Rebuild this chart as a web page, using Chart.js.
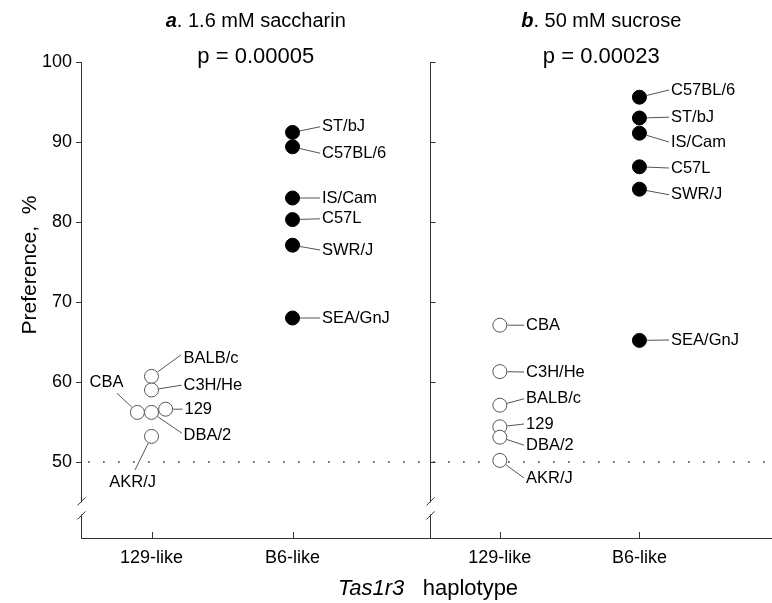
<!DOCTYPE html>
<html>
<head>
<meta charset="utf-8">
<script src="https://cdn.jsdelivr.net/npm/chart.js@4/dist/chart.umd.min.js"></script>
<style>
  html, body { margin: 0; padding: 0; background: #fff; overflow: hidden; }
  #wrap { width: 772px; height: 603px; position: absolute; left: 0; top: 0; }
</style>
</head>
<body>
<div id="wrap"><canvas id="myChart"></canvas></div>
<script>
// categories and ticks
const xCats = ['129-like', 'B6-like', '129-like', 'B6-like'];
const xTickPos = [1, 2, 3.47, 4.46];
const yTicks = [50, 60, 70, 80, 90, 100];
const panelTitles = ['1.6 mM saccharin', '50 mM sucrose'];
const panelLetters = ['a', 'b'];
const pValues = ['p = 0.00005', 'p = 0.00023'];

// a. saccharin, 129-like haplotype
const saccNames129 = ['BALB/c', 'C3H/He', 'CBA', '129', 'DBA/2', 'AKR/J'];
const saccX129 = [1, 1, 0.9, 1.1, 1, 1];
const saccY129 = [60.7, 59.0, 56.2, 56.6, 56.2, 53.2];
// a. saccharin, B6-like haplotype
const saccNamesB6 = ['ST/bJ', 'C57BL/6', 'IS/Cam', 'C57L', 'SWR/J', 'SEA/GnJ'];
const saccXB6 = [2, 2, 2, 2, 2, 2];
const saccYB6 = [91.2, 89.4, 83.0, 80.3, 77.1, 68.0];
// b. sucrose, 129-like haplotype
const sucNames129 = ['CBA', 'C3H/He', 'BALB/c', '129', 'DBA/2', 'AKR/J'];
const sucX129 = [3.47, 3.47, 3.47, 3.47, 3.47, 3.47];
const sucY129 = [67.1, 61.3, 57.1, 54.4, 53.1, 50.2];
// b. sucrose, B6-like haplotype
const sucNamesB6 = ['C57BL/6', 'ST/bJ', 'IS/Cam', 'C57L', 'SWR/J', 'SEA/GnJ'];
const sucXB6 = [4.46, 4.46, 4.46, 4.46, 4.46, 4.46];
const sucYB6 = [95.6, 93.0, 91.1, 86.9, 84.1, 65.2];

// where the strain names sit (data units) and where their leader lines end
const saccLab129 = [[1.227, 63.0], [1.227, 59.6], [0.56, 59.9], [1.234, 56.6], [1.227, 53.3], [0.70, 47.4]];
const saccEnd129 = [[1.21, 63.4], null, [0.755, 58.6], null, [1.215, 53.6], [0.883, 49.0]];
const saccLabB6 = [[2.209, 91.9], [2.209, 88.6], [2.209, 83.0], [2.209, 80.4], [2.209, 76.5], [2.209, 68.0]];
const sucLab129 = [[3.656, 67.1], [3.656, 61.25], [3.656, 57.9], [3.656, 54.75], [3.656, 52.1], [3.656, 48.0]];
const sucLabB6 = [[4.684, 96.5], [4.684, 93.1], [4.684, 90.0], [4.684, 86.75], [4.684, 83.4], [4.684, 65.25]];

const panelDivider = 2.975;
const breakAt = 44.2;

const groups = [
  { names: saccNames129, xs: saccX129, ys: saccY129, lab: saccLab129, end: saccEnd129, open: true },
  { names: saccNamesB6, xs: saccXB6, ys: saccYB6, lab: saccLabB6, end: [], open: false },
  { names: sucNames129, xs: sucX129, ys: sucY129, lab: sucLab129, end: [], open: true },
  { names: sucNamesB6, xs: sucXB6, ys: sucYB6, lab: sucLabB6, end: [], open: false }
];

const FONT = '"Liberation Sans", Arial, Helvetica, sans-serif';

const datasets = groups.map(g => ({
  type: 'scatter',
  data: g.xs.map((x, i) => ({ x: x, y: g.ys[i] })),
  pointRadius: 7,
  pointBorderWidth: 1,
  pointBackgroundColor: g.open ? '#fff' : '#000',
  pointBorderColor: g.open ? '#555' : '#000',
  pointHoverRadius: 7
}));
datasets.push({
  type: 'line',
  data: [{ x: 0.55, y: 50 }, { x: 5.4, y: 50 }],
  borderColor: '#333',
  borderWidth: 1.6,
  borderDash: [1.6, 13.4],
  pointRadius: 0,
  order: 10
});

const extras = {
  id: 'extras',
  afterDatasetsDraw(chart) {
    const ctx = chart.ctx, xs = chart.scales.x, ys = chart.scales.y;
    ctx.save();
    ctx.font = '16.5px ' + FONT;
    ctx.textBaseline = 'middle';
    ctx.textAlign = 'left';
    groups.forEach(g => {
      g.names.forEach((name, i) => {
        const px = xs.getPixelForValue(g.xs[i]), py = ys.getPixelForValue(g.ys[i]);
        const tx = xs.getPixelForValue(g.lab[i][0]), ty = ys.getPixelForValue(g.lab[i][1]);
        let ex, ey;
        if (g.end[i]) {
          ex = xs.getPixelForValue(g.end[i][0]); ey = ys.getPixelForValue(g.end[i][1]);
        } else {
          ex = tx - 2; ey = ty;
        }
        const d = Math.hypot(ex - px, ey - py), r = 7.5;
        ctx.strokeStyle = '#555';
        ctx.lineWidth = 1;
        ctx.beginPath();
        ctx.moveTo(px + (ex - px) * r / d, py + (ey - py) * r / d);
        ctx.lineTo(ex, ey);
        ctx.stroke();
        ctx.fillStyle = '#000';
        ctx.fillText(name, tx, ty);
      });
    });
    ctx.restore();
  },
  afterDraw(chart) {
    const ctx = chart.ctx, xs = chart.scales.x, ys = chart.scales.y;
    const area = chart.chartArea;
    const divX = Math.round(xs.getPixelForValue(panelDivider)) + 0.5;
    const leftX = Math.round(area.left) + 0.5;
    ctx.save();
    // right panel axis
    ctx.strokeStyle = '#333';
    ctx.lineWidth = 1;
    ctx.beginPath();
    ctx.moveTo(divX, ys.getPixelForValue(100));
    ctx.lineTo(divX, area.bottom);
    yTicks.forEach(v => {
      const y = Math.round(ys.getPixelForValue(v)) + 0.5;
      ctx.moveTo(divX, y);
      ctx.lineTo(divX + 5, y);
    });
    // upward x ticks
    xTickPos.forEach(v => {
      const x = Math.round(xs.getPixelForValue(v)) + 0.5;
      ctx.moveTo(x, area.bottom);
      ctx.lineTo(x, area.bottom - 6);
    });
    ctx.stroke();
    // axis breaks
    const by = ys.getPixelForValue(breakAt);
    [leftX, divX].forEach(x => {
      ctx.fillStyle = '#fff';
      ctx.fillRect(x - 2, by - 6, 4, 12);
      ctx.beginPath();
      ctx.moveTo(x - 4, by - 3); ctx.lineTo(x + 4, by - 11);
      ctx.moveTo(x - 4, by + 11); ctx.lineTo(x + 4, by + 3);
      ctx.stroke();
    });
    // panel titles
    ctx.fillStyle = '#000';
    ctx.textBaseline = 'alphabetic';
    const centers = [(area.left + divX) / 2, (divX + area.right) / 2];
    centers.forEach((cx, i) => {
      const bold = 'italic bold 20px ' + FONT, reg = '20px ' + FONT;
      ctx.font = bold;
      const w1 = ctx.measureText(panelLetters[i]).width;
      ctx.font = reg;
      const rest = '. ' + panelTitles[i];
      const w2 = ctx.measureText(rest).width;
      let x0 = cx - (w1 + w2) / 2;
      ctx.textAlign = 'left';
      ctx.font = bold;
      ctx.fillText(panelLetters[i], x0, 27);
      ctx.font = reg;
      ctx.fillText(rest, x0 + w1, 27);
      ctx.textAlign = 'center';
      ctx.font = '22px ' + FONT;
      ctx.fillText(pValues[i], cx, 63);
    });
    // x axis title
    ctx.font = 'italic 22px ' + FONT;
    const t1 = 'Tas1r3', t2 = '   haplotype';
    const w1 = ctx.measureText(t1).width;
    ctx.font = '22px ' + FONT;
    const w2 = ctx.measureText(t2).width;
    const x0 = 428 - (w1 + w2) / 2;
    ctx.textAlign = 'left';
    ctx.font = 'italic 22px ' + FONT;
    ctx.fillText(t1, x0, 595);
    ctx.font = '22px ' + FONT;
    ctx.fillText(t2, x0 + w1, 595);
    // y axis title
    ctx.translate(30, 265);
    ctx.rotate(-Math.PI / 2);
    ctx.textAlign = 'center';
    ctx.textBaseline = 'middle';
    ctx.font = '21px ' + FONT;
    ctx.fillText('Preference,  %', 0, 0);
    ctx.restore();
  }
};

new Chart(document.getElementById('myChart'), {
  data: { datasets: datasets },
  options: {
    responsive: true,
    maintainAspectRatio: false,
    animation: false,
    layout: { autoPadding: false, padding: { top: 62, right: 0, left: 0, bottom: 0 } },
    plugins: { legend: { display: false }, tooltip: { enabled: false } },
    scales: {
      x: {
        type: 'linear',
        min: 0.5,
        max: 5.4,
        afterBuildTicks: s => { s.ticks = xTickPos.map(v => ({ value: v })); },
        afterFit: s => { s.height = 65; s.paddingLeft = 0; s.paddingRight = 0; },
        grid: { display: false },
        border: { display: true, color: '#333', width: 1 },
        ticks: {
          padding: 1,
          color: '#000',
          font: { family: FONT, size: 18 },
          callback: (v, i) => xCats[i]
        }
      },
      y: {
        min: 40.5,
        max: 100,
        afterBuildTicks: s => { s.ticks = yTicks.map(v => ({ value: v })); },
        afterFit: s => { s.width = 81; s.paddingTop = 0; s.paddingBottom = 0; },
        grid: { display: true, drawOnChartArea: false, drawTicks: true, tickLength: 5, color: '#333' },
        border: { display: true, color: '#333', width: 1 },
        ticks: {
          padding: 4,
          color: '#000',
          font: { family: FONT, size: 18 }
        }
      }
    }
  },
  plugins: [extras]
});
</script>
</body>
</html>
